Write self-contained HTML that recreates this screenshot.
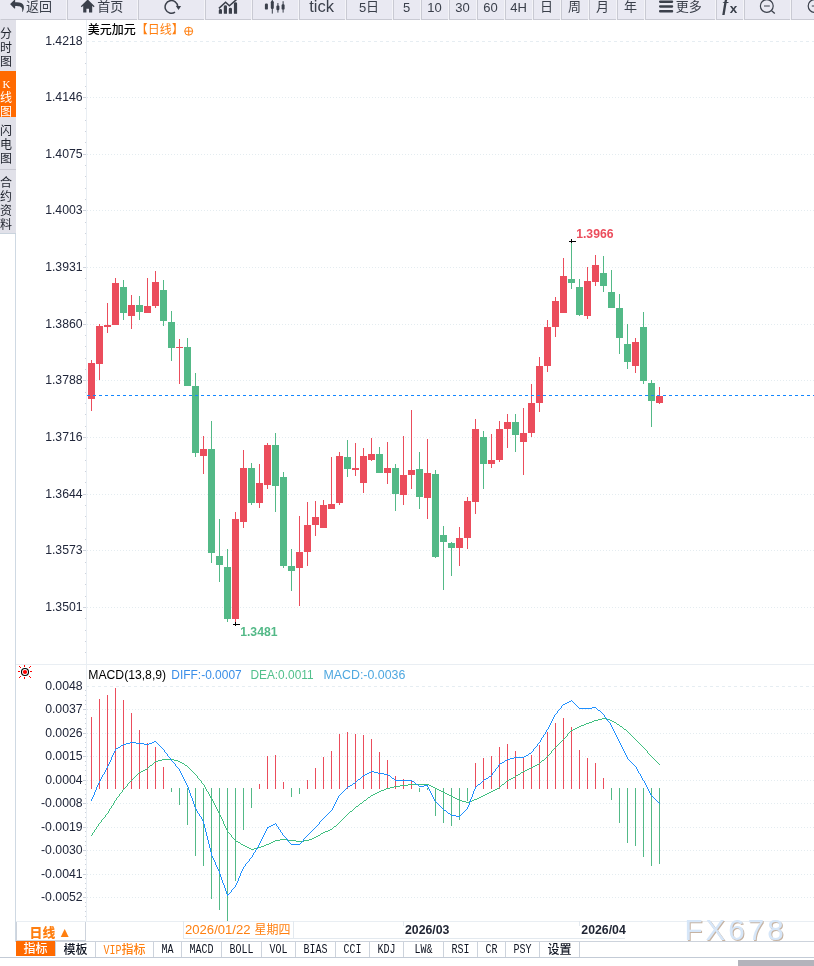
<!DOCTYPE html><html lang="zh-CN"><head><meta charset="utf-8"><title>美元加元 日线</title><style>
*{box-sizing:border-box;margin:0;padding:0}
html,body{width:814px;height:966px;overflow:hidden;background:#fff}
body{position:relative;font-family:"Liberation Sans","Noto Sans CJK SC",sans-serif;color:#333}
#toolbar{position:absolute;left:0;top:0;width:814px;height:20px;overflow:hidden;background:#f4f4f8}
#toolbar .b{position:absolute;top:-7px;height:27px;background:#e9e9f2;border-left:1px solid #c9cad3;border-bottom:1px solid #c9cad3;
 font-size:13px;line-height:27px;color:#3b404b;text-align:center;text-indent:-1px;white-space:nowrap;overflow:hidden}
#toolbar .b .t{position:absolute;top:0;text-indent:0}
#toolbar .b .l{position:relative;top:0.5px}
#toolbar .fx{position:relative;top:-1.5px;left:-0.5px;font-weight:bold}
#toolbar .fx .f{font-family:"Liberation Serif",serif;font-style:italic;font-size:18px;letter-spacing:0}
#toolbar .fx .x{font-size:13.5px;position:relative;top:2px;left:1.5px}
#side{position:absolute;left:0;top:20px;width:16px}
#side div{width:16px;font-family:"Liberation Mono","Noto Sans CJK SC",sans-serif;font-size:12px;line-height:14.3px;color:#1e222c;background:#e1e1e9;text-align:left;overflow:hidden}
#side div.on{background:#ff6a00;color:#fff}
#side .k{padding-left:2.5px;font-family:"Liberation Serif",serif;font-size:11px}
#period{position:absolute;left:16px;top:922px;width:70px;height:19px;border:1px solid #cdd3dc;border-top:none;font-size:12.8px;font-weight:bold;color:#ff7f10;line-height:22.4px;text-align:left;background:#fff;white-space:nowrap}
#period b{position:absolute;left:12.6px;top:0;font-size:12.8px;line-height:21px}
#period span{position:absolute;left:41.1px;top:-0.4px;font-size:13.5px}
#tabs{position:absolute;left:15px;top:941px;height:16px;width:799px;border-top:1px solid #cdd3dc;background:#fff}
#tabs span{position:absolute;top:0;height:15px;border-right:1px solid #cdd3dc;font-family:"Liberation Mono","Noto Serif CJK SC",monospace;font-size:10px;line-height:18.4px;color:#0f1422;text-align:center;white-space:nowrap;overflow:hidden}
#tabs span i{display:inline-block;font-style:normal;transform:scaleY(1.2);transform-origin:50% 60%}
#tabs span.cn{font-family:"Liberation Mono","Noto Sans CJK SC",sans-serif;font-size:12px;line-height:18.2px;font-weight:500}
#tabs span.cn i{font-size:10px}
#tabs span.on{background:#ff6a00;color:#fff;top:-1px;height:15px;line-height:18px}
#tabs span.vip{color:#ff7f10}
#bline{position:absolute;left:0;top:957px;width:814px;height:1px;background:#c3cbd6}
#scroll{position:absolute;left:738px;top:960px;width:76px;height:6px;background:#b3b3bb}
#title{position:absolute;left:87.8px;top:20.4px;font-size:12px;line-height:18px;color:#000;white-space:nowrap;font-family:"Noto Sans CJK SC",sans-serif;font-weight:500}
#title b{font-weight:normal;color:#ff7f10}
</style></head><body>
<svg id="chart" width="814" height="966" viewBox="0 0 814 966" style="position:absolute;left:0;top:0">
<g shape-rendering="crispEdges" stroke="#e4ecf0" stroke-width="1" fill="none">
<path d="M86 41.5H814" stroke="#e6edf2" stroke-dasharray="3 3"/>
<path d="M87 97.5H814" stroke-dasharray="1 2"/>
<path d="M87 154.5H814" stroke-dasharray="1 2"/>
<path d="M87 210.5H814" stroke-dasharray="1 2"/>
<path d="M87 267.5H814" stroke-dasharray="1 2"/>
<path d="M87 324.5H814" stroke-dasharray="1 2"/>
<path d="M87 380.5H814" stroke-dasharray="1 2"/>
<path d="M87 437.5H814" stroke-dasharray="1 2"/>
<path d="M87 494.5H814" stroke-dasharray="1 2"/>
<path d="M87 550.5H814" stroke-dasharray="1 2"/>
<path d="M87 607.5H814" stroke-dasharray="1 2"/>
<path d="M86 686.5H814" stroke="#e6edf2" stroke-dasharray="3 3"/>
<path d="M87 709.5H814" stroke-dasharray="1 2"/>
<path d="M87 733.5H814" stroke-dasharray="1 2"/>
<path d="M87 756.5H814" stroke-dasharray="1 2"/>
<path d="M87 780.5H814" stroke-dasharray="1 2"/>
<path d="M87 803.5H814" stroke-dasharray="1 2"/>
<path d="M87 827.5H814" stroke-dasharray="1 2"/>
<path d="M87 850.5H814" stroke-dasharray="1 2"/>
<path d="M87 874.5H814" stroke-dasharray="1 2"/>
<path d="M87 897.5H814" stroke-dasharray="1 2"/>
</g>
<g shape-rendering="crispEdges" fill="#e9eef3">
<rect x="86" y="20" width="1" height="901"/>
<rect x="15" y="234" width="1" height="723" fill="#cfd9e3"/>
<rect x="16" y="664" width="798" height="1"/>
<rect x="16" y="921" width="798" height="1"/>
</g>
<g shape-rendering="crispEdges" fill="#cdd2dc">
<rect x="85" y="52" width="1" height="1"/>
<rect x="85" y="63" width="1" height="1"/>
<rect x="85" y="74" width="1" height="1"/>
<rect x="85" y="86" width="1" height="1"/>
<rect x="83" y="97" width="3" height="1"/>
<rect x="85" y="108" width="1" height="1"/>
<rect x="85" y="120" width="1" height="1"/>
<rect x="85" y="131" width="1" height="1"/>
<rect x="85" y="142" width="1" height="1"/>
<rect x="83" y="154" width="3" height="1"/>
<rect x="85" y="165" width="1" height="1"/>
<rect x="85" y="176" width="1" height="1"/>
<rect x="85" y="188" width="1" height="1"/>
<rect x="85" y="199" width="1" height="1"/>
<rect x="83" y="210" width="3" height="1"/>
<rect x="85" y="222" width="1" height="1"/>
<rect x="85" y="233" width="1" height="1"/>
<rect x="85" y="244" width="1" height="1"/>
<rect x="85" y="256" width="1" height="1"/>
<rect x="83" y="267" width="3" height="1"/>
<rect x="85" y="278" width="1" height="1"/>
<rect x="85" y="290" width="1" height="1"/>
<rect x="85" y="301" width="1" height="1"/>
<rect x="85" y="312" width="1" height="1"/>
<rect x="83" y="324" width="3" height="1"/>
<rect x="85" y="335" width="1" height="1"/>
<rect x="85" y="346" width="1" height="1"/>
<rect x="85" y="358" width="1" height="1"/>
<rect x="85" y="369" width="1" height="1"/>
<rect x="83" y="380" width="3" height="1"/>
<rect x="85" y="392" width="1" height="1"/>
<rect x="85" y="403" width="1" height="1"/>
<rect x="85" y="414" width="1" height="1"/>
<rect x="85" y="426" width="1" height="1"/>
<rect x="83" y="437" width="3" height="1"/>
<rect x="85" y="448" width="1" height="1"/>
<rect x="85" y="460" width="1" height="1"/>
<rect x="85" y="471" width="1" height="1"/>
<rect x="85" y="482" width="1" height="1"/>
<rect x="83" y="494" width="3" height="1"/>
<rect x="85" y="505" width="1" height="1"/>
<rect x="85" y="516" width="1" height="1"/>
<rect x="85" y="528" width="1" height="1"/>
<rect x="85" y="539" width="1" height="1"/>
<rect x="83" y="550" width="3" height="1"/>
<rect x="85" y="562" width="1" height="1"/>
<rect x="85" y="573" width="1" height="1"/>
<rect x="85" y="584" width="1" height="1"/>
<rect x="85" y="596" width="1" height="1"/>
<rect x="83" y="607" width="3" height="1"/>
<rect x="85" y="618" width="1" height="1"/>
<rect x="85" y="630" width="1" height="1"/>
<rect x="85" y="641" width="1" height="1"/>
<rect x="85" y="652" width="1" height="1"/>
<rect x="85" y="690" width="1" height="1"/>
<rect x="85" y="695" width="1" height="1"/>
<rect x="85" y="700" width="1" height="1"/>
<rect x="85" y="704" width="1" height="1"/>
<rect x="83" y="709" width="3" height="1"/>
<rect x="85" y="714" width="1" height="1"/>
<rect x="85" y="718" width="1" height="1"/>
<rect x="85" y="723" width="1" height="1"/>
<rect x="85" y="728" width="1" height="1"/>
<rect x="83" y="733" width="3" height="1"/>
<rect x="85" y="737" width="1" height="1"/>
<rect x="85" y="742" width="1" height="1"/>
<rect x="85" y="747" width="1" height="1"/>
<rect x="85" y="751" width="1" height="1"/>
<rect x="83" y="756" width="3" height="1"/>
<rect x="85" y="761" width="1" height="1"/>
<rect x="85" y="765" width="1" height="1"/>
<rect x="85" y="770" width="1" height="1"/>
<rect x="85" y="775" width="1" height="1"/>
<rect x="83" y="780" width="3" height="1"/>
<rect x="85" y="784" width="1" height="1"/>
<rect x="85" y="789" width="1" height="1"/>
<rect x="85" y="794" width="1" height="1"/>
<rect x="85" y="798" width="1" height="1"/>
<rect x="83" y="803" width="3" height="1"/>
<rect x="85" y="808" width="1" height="1"/>
<rect x="85" y="812" width="1" height="1"/>
<rect x="85" y="817" width="1" height="1"/>
<rect x="85" y="822" width="1" height="1"/>
<rect x="83" y="827" width="3" height="1"/>
<rect x="85" y="831" width="1" height="1"/>
<rect x="85" y="836" width="1" height="1"/>
<rect x="85" y="841" width="1" height="1"/>
<rect x="85" y="845" width="1" height="1"/>
<rect x="83" y="850" width="3" height="1"/>
<rect x="85" y="855" width="1" height="1"/>
<rect x="85" y="859" width="1" height="1"/>
<rect x="85" y="864" width="1" height="1"/>
<rect x="85" y="869" width="1" height="1"/>
<rect x="83" y="874" width="3" height="1"/>
<rect x="85" y="878" width="1" height="1"/>
<rect x="85" y="883" width="1" height="1"/>
<rect x="85" y="888" width="1" height="1"/>
<rect x="85" y="892" width="1" height="1"/>
<rect x="83" y="897" width="3" height="1"/>
<rect x="85" y="902" width="1" height="1"/>
<rect x="85" y="906" width="1" height="1"/>
<rect x="85" y="911" width="1" height="1"/>
<rect x="85" y="916" width="1" height="1"/>
</g>
<g shape-rendering="crispEdges">
<rect x="91" y="360" width="1" height="51" fill="#eb4d5c"/>
<rect x="88" y="363" width="7" height="36" fill="#eb4d5c"/>
<rect x="99" y="324" width="1" height="56" fill="#eb4d5c"/>
<rect x="96" y="326" width="7" height="38" fill="#eb4d5c"/>
<rect x="107" y="303" width="1" height="30" fill="#eb4d5c"/>
<rect x="104" y="325" width="7" height="2" fill="#eb4d5c"/>
<rect x="115" y="278" width="1" height="47" fill="#eb4d5c"/>
<rect x="112" y="283" width="7" height="42" fill="#eb4d5c"/>
<rect x="123" y="280" width="1" height="40" fill="#53b987"/>
<rect x="120" y="287" width="7" height="26" fill="#53b987"/>
<rect x="131" y="295" width="1" height="34" fill="#eb4d5c"/>
<rect x="128" y="305" width="7" height="11" fill="#eb4d5c"/>
<rect x="139" y="296" width="1" height="24" fill="#53b987"/>
<rect x="136" y="305" width="7" height="7" fill="#53b987"/>
<rect x="147" y="278" width="1" height="35" fill="#eb4d5c"/>
<rect x="144" y="306" width="7" height="7" fill="#eb4d5c"/>
<rect x="155" y="271" width="1" height="37" fill="#eb4d5c"/>
<rect x="152" y="282" width="7" height="24" fill="#eb4d5c"/>
<rect x="163" y="280" width="1" height="46" fill="#53b987"/>
<rect x="160" y="290" width="7" height="31" fill="#53b987"/>
<rect x="171" y="311" width="1" height="50" fill="#53b987"/>
<rect x="168" y="322" width="7" height="26" fill="#53b987"/>
<rect x="179" y="339" width="1" height="45" fill="#eb4d5c"/>
<rect x="176" y="347" width="7" height="1" fill="#eb4d5c"/>
<rect x="187" y="338" width="1" height="48" fill="#53b987"/>
<rect x="184" y="347" width="7" height="39" fill="#53b987"/>
<rect x="195" y="373" width="1" height="84" fill="#53b987"/>
<rect x="192" y="386" width="7" height="67" fill="#53b987"/>
<rect x="203" y="436" width="1" height="38" fill="#eb4d5c"/>
<rect x="200" y="449" width="7" height="7" fill="#eb4d5c"/>
<rect x="211" y="421" width="1" height="142" fill="#53b987"/>
<rect x="208" y="449" width="7" height="104" fill="#53b987"/>
<rect x="219" y="519" width="1" height="63" fill="#53b987"/>
<rect x="216" y="556" width="7" height="9" fill="#53b987"/>
<rect x="227" y="549" width="1" height="73" fill="#53b987"/>
<rect x="224" y="567" width="7" height="52" fill="#53b987"/>
<rect x="235" y="512" width="1" height="111" fill="#eb4d5c"/>
<rect x="232" y="519" width="7" height="100" fill="#eb4d5c"/>
<rect x="243" y="450" width="1" height="78" fill="#eb4d5c"/>
<rect x="240" y="468" width="7" height="54" fill="#eb4d5c"/>
<rect x="251" y="463" width="1" height="42" fill="#53b987"/>
<rect x="248" y="468" width="7" height="35" fill="#53b987"/>
<rect x="259" y="464" width="1" height="44" fill="#eb4d5c"/>
<rect x="256" y="483" width="7" height="20" fill="#eb4d5c"/>
<rect x="267" y="443" width="1" height="46" fill="#eb4d5c"/>
<rect x="264" y="445" width="7" height="40" fill="#eb4d5c"/>
<rect x="275" y="433" width="1" height="79" fill="#53b987"/>
<rect x="272" y="445" width="7" height="41" fill="#53b987"/>
<rect x="283" y="472" width="1" height="96" fill="#53b987"/>
<rect x="280" y="477" width="7" height="89" fill="#53b987"/>
<rect x="291" y="549" width="1" height="42" fill="#53b987"/>
<rect x="288" y="566" width="7" height="5" fill="#53b987"/>
<rect x="299" y="516" width="1" height="90" fill="#eb4d5c"/>
<rect x="296" y="552" width="7" height="16" fill="#eb4d5c"/>
<rect x="307" y="502" width="1" height="64" fill="#eb4d5c"/>
<rect x="304" y="525" width="7" height="27" fill="#eb4d5c"/>
<rect x="315" y="501" width="1" height="35" fill="#eb4d5c"/>
<rect x="312" y="517" width="7" height="8" fill="#eb4d5c"/>
<rect x="323" y="500" width="1" height="28" fill="#eb4d5c"/>
<rect x="320" y="505" width="7" height="23" fill="#eb4d5c"/>
<rect x="331" y="457" width="1" height="52" fill="#eb4d5c"/>
<rect x="328" y="504" width="7" height="5" fill="#eb4d5c"/>
<rect x="339" y="452" width="1" height="53" fill="#eb4d5c"/>
<rect x="336" y="456" width="7" height="47" fill="#eb4d5c"/>
<rect x="347" y="440" width="1" height="37" fill="#53b987"/>
<rect x="344" y="457" width="7" height="12" fill="#53b987"/>
<rect x="355" y="443" width="1" height="33" fill="#eb4d5c"/>
<rect x="352" y="468" width="7" height="2" fill="#eb4d5c"/>
<rect x="363" y="448" width="1" height="45" fill="#eb4d5c"/>
<rect x="360" y="456" width="7" height="27" fill="#eb4d5c"/>
<rect x="371" y="438" width="1" height="23" fill="#eb4d5c"/>
<rect x="368" y="454" width="7" height="6" fill="#eb4d5c"/>
<rect x="379" y="447" width="1" height="26" fill="#53b987"/>
<rect x="376" y="454" width="7" height="19" fill="#53b987"/>
<rect x="387" y="442" width="1" height="42" fill="#eb4d5c"/>
<rect x="384" y="468" width="7" height="5" fill="#eb4d5c"/>
<rect x="395" y="464" width="1" height="47" fill="#53b987"/>
<rect x="392" y="468" width="7" height="26" fill="#53b987"/>
<rect x="403" y="436" width="1" height="69" fill="#eb4d5c"/>
<rect x="400" y="475" width="7" height="20" fill="#eb4d5c"/>
<rect x="411" y="410" width="1" height="79" fill="#eb4d5c"/>
<rect x="408" y="470" width="7" height="5" fill="#eb4d5c"/>
<rect x="419" y="452" width="1" height="57" fill="#53b987"/>
<rect x="416" y="469" width="7" height="28" fill="#53b987"/>
<rect x="427" y="439" width="1" height="80" fill="#eb4d5c"/>
<rect x="424" y="473" width="7" height="25" fill="#eb4d5c"/>
<rect x="435" y="470" width="1" height="88" fill="#53b987"/>
<rect x="432" y="474" width="7" height="83" fill="#53b987"/>
<rect x="443" y="526" width="1" height="64" fill="#53b987"/>
<rect x="440" y="535" width="7" height="7" fill="#53b987"/>
<rect x="451" y="542" width="1" height="34" fill="#53b987"/>
<rect x="448" y="543" width="7" height="5" fill="#53b987"/>
<rect x="459" y="527" width="1" height="39" fill="#eb4d5c"/>
<rect x="456" y="538" width="7" height="10" fill="#eb4d5c"/>
<rect x="467" y="497" width="1" height="52" fill="#eb4d5c"/>
<rect x="464" y="501" width="7" height="37" fill="#eb4d5c"/>
<rect x="475" y="419" width="1" height="95" fill="#eb4d5c"/>
<rect x="472" y="429" width="7" height="73" fill="#eb4d5c"/>
<rect x="483" y="431" width="1" height="58" fill="#53b987"/>
<rect x="480" y="437" width="7" height="27" fill="#53b987"/>
<rect x="491" y="434" width="1" height="34" fill="#eb4d5c"/>
<rect x="488" y="460" width="7" height="4" fill="#eb4d5c"/>
<rect x="499" y="421" width="1" height="41" fill="#eb4d5c"/>
<rect x="496" y="429" width="7" height="31" fill="#eb4d5c"/>
<rect x="507" y="414" width="1" height="34" fill="#eb4d5c"/>
<rect x="504" y="422" width="7" height="7" fill="#eb4d5c"/>
<rect x="515" y="414" width="1" height="38" fill="#53b987"/>
<rect x="512" y="422" width="7" height="13" fill="#53b987"/>
<rect x="523" y="408" width="1" height="67" fill="#eb4d5c"/>
<rect x="520" y="433" width="7" height="9" fill="#eb4d5c"/>
<rect x="531" y="384" width="1" height="53" fill="#eb4d5c"/>
<rect x="528" y="403" width="7" height="30" fill="#eb4d5c"/>
<rect x="539" y="357" width="1" height="55" fill="#eb4d5c"/>
<rect x="536" y="366" width="7" height="37" fill="#eb4d5c"/>
<rect x="547" y="320" width="1" height="52" fill="#eb4d5c"/>
<rect x="544" y="327" width="7" height="39" fill="#eb4d5c"/>
<rect x="555" y="297" width="1" height="40" fill="#eb4d5c"/>
<rect x="552" y="301" width="7" height="26" fill="#eb4d5c"/>
<rect x="563" y="258" width="1" height="55" fill="#eb4d5c"/>
<rect x="560" y="276" width="7" height="37" fill="#eb4d5c"/>
<rect x="571" y="241" width="1" height="48" fill="#53b987"/>
<rect x="568" y="279" width="7" height="4" fill="#53b987"/>
<rect x="579" y="279" width="1" height="37" fill="#53b987"/>
<rect x="576" y="287" width="7" height="28" fill="#53b987"/>
<rect x="587" y="267" width="1" height="52" fill="#eb4d5c"/>
<rect x="584" y="281" width="7" height="35" fill="#eb4d5c"/>
<rect x="595" y="255" width="1" height="31" fill="#eb4d5c"/>
<rect x="592" y="265" width="7" height="17" fill="#eb4d5c"/>
<rect x="603" y="256" width="1" height="36" fill="#53b987"/>
<rect x="600" y="273" width="7" height="13" fill="#53b987"/>
<rect x="611" y="270" width="1" height="38" fill="#53b987"/>
<rect x="608" y="292" width="7" height="16" fill="#53b987"/>
<rect x="619" y="294" width="1" height="60" fill="#53b987"/>
<rect x="616" y="308" width="7" height="30" fill="#53b987"/>
<rect x="627" y="324" width="1" height="45" fill="#53b987"/>
<rect x="624" y="344" width="7" height="18" fill="#53b987"/>
<rect x="635" y="338" width="1" height="35" fill="#eb4d5c"/>
<rect x="632" y="342" width="7" height="24" fill="#eb4d5c"/>
<rect x="643" y="312" width="1" height="72" fill="#53b987"/>
<rect x="640" y="327" width="7" height="54" fill="#53b987"/>
<rect x="651" y="380" width="1" height="47" fill="#53b987"/>
<rect x="648" y="383" width="7" height="18" fill="#53b987"/>
<rect x="659" y="387" width="1" height="17" fill="#eb4d5c"/>
<rect x="656" y="396" width="7" height="7" fill="#eb4d5c"/>
</g>
<path d="M87 395.5H814" stroke="#1487ff" stroke-width="1" stroke-dasharray="3 3" fill="none" shape-rendering="crispEdges"/>
<g shape-rendering="crispEdges" fill="#000"><rect x="569" y="241" width="7" height="1"/><rect x="571" y="239" width="1" height="4"/><rect x="233" y="624" width="7" height="1"/><rect x="235" y="622" width="1" height="4"/></g>
<text x="576.2" y="238" font-family="Liberation Sans, sans-serif" font-weight="bold" font-size="12.2" fill="#eb4d5c">1.3966</text>
<text x="240.2" y="636" font-family="Liberation Sans, sans-serif" font-weight="bold" font-size="12.2" fill="#53b987">1.3481</text>
<g font-family="Liberation Sans, sans-serif" font-size="12.25" fill="#20263a" text-anchor="end">
<text x="82.6" y="44.8">1.4218</text>
<text x="82.6" y="100.8">1.4146</text>
<text x="82.6" y="157.8">1.4075</text>
<text x="82.6" y="213.8">1.4003</text>
<text x="82.6" y="270.8">1.3931</text>
<text x="82.6" y="327.8">1.3860</text>
<text x="82.6" y="383.8">1.3788</text>
<text x="82.6" y="440.8">1.3716</text>
<text x="82.6" y="497.8">1.3644</text>
<text x="82.6" y="553.8">1.3573</text>
<text x="82.6" y="610.8">1.3501</text>
<text x="82.6" y="690.3">0.0048</text>
<text x="82.6" y="713.3">0.0037</text>
<text x="82.6" y="737.3">0.0026</text>
<text x="82.6" y="760.3">0.0015</text>
<text x="82.6" y="784.3">0.0004</text>
<text x="82.6" y="807.3">-0.0008</text>
<text x="82.6" y="831.3">-0.0019</text>
<text x="82.6" y="854.3">-0.0030</text>
<text x="82.6" y="878.3">-0.0041</text>
<text x="82.6" y="901.3">-0.0052</text>
</g>
<g shape-rendering="crispEdges">
<rect x="91" y="717" width="1" height="72" fill="#eb4d5c"/>
<rect x="99" y="699" width="1" height="90" fill="#eb4d5c"/>
<rect x="107" y="695" width="1" height="94" fill="#eb4d5c"/>
<rect x="115" y="688" width="1" height="101" fill="#eb4d5c"/>
<rect x="123" y="700" width="1" height="89" fill="#eb4d5c"/>
<rect x="131" y="713" width="1" height="76" fill="#eb4d5c"/>
<rect x="139" y="730" width="1" height="59" fill="#eb4d5c"/>
<rect x="147" y="743" width="1" height="46" fill="#eb4d5c"/>
<rect x="155" y="747" width="1" height="42" fill="#eb4d5c"/>
<rect x="163" y="767" width="1" height="22" fill="#eb4d5c"/>
<rect x="171" y="788" width="1" height="4" fill="#53b987"/>
<rect x="179" y="788" width="1" height="17" fill="#53b987"/>
<rect x="187" y="788" width="1" height="37" fill="#53b987"/>
<rect x="195" y="788" width="1" height="68" fill="#53b987"/>
<rect x="203" y="788" width="1" height="78" fill="#53b987"/>
<rect x="211" y="788" width="1" height="111" fill="#53b987"/>
<rect x="219" y="788" width="1" height="122" fill="#53b987"/>
<rect x="227" y="788" width="1" height="133" fill="#53b987"/>
<rect x="235" y="788" width="1" height="93" fill="#53b987"/>
<rect x="243" y="788" width="1" height="42" fill="#53b987"/>
<rect x="251" y="788" width="1" height="20" fill="#53b987"/>
<rect x="259" y="784" width="1" height="5" fill="#eb4d5c"/>
<rect x="267" y="756" width="1" height="33" fill="#eb4d5c"/>
<rect x="275" y="755" width="1" height="34" fill="#eb4d5c"/>
<rect x="283" y="782" width="1" height="7" fill="#eb4d5c"/>
<rect x="291" y="788" width="1" height="9" fill="#53b987"/>
<rect x="299" y="788" width="1" height="6" fill="#53b987"/>
<rect x="307" y="780" width="1" height="9" fill="#eb4d5c"/>
<rect x="315" y="768" width="1" height="21" fill="#eb4d5c"/>
<rect x="323" y="757" width="1" height="32" fill="#eb4d5c"/>
<rect x="331" y="751" width="1" height="38" fill="#eb4d5c"/>
<rect x="339" y="734" width="1" height="55" fill="#eb4d5c"/>
<rect x="347" y="732" width="1" height="57" fill="#eb4d5c"/>
<rect x="355" y="734" width="1" height="55" fill="#eb4d5c"/>
<rect x="363" y="735" width="1" height="54" fill="#eb4d5c"/>
<rect x="371" y="739" width="1" height="50" fill="#eb4d5c"/>
<rect x="379" y="752" width="1" height="37" fill="#eb4d5c"/>
<rect x="387" y="760" width="1" height="29" fill="#eb4d5c"/>
<rect x="395" y="776" width="1" height="13" fill="#eb4d5c"/>
<rect x="403" y="779" width="1" height="10" fill="#eb4d5c"/>
<rect x="411" y="780" width="1" height="9" fill="#eb4d5c"/>
<rect x="419" y="788" width="1" height="4" fill="#53b987"/>
<rect x="427" y="788" width="1" height="1.5" fill="#53b987"/>
<rect x="435" y="788" width="1" height="28" fill="#53b987"/>
<rect x="443" y="788" width="1" height="35" fill="#53b987"/>
<rect x="451" y="788" width="1" height="38" fill="#53b987"/>
<rect x="459" y="788" width="1" height="32" fill="#53b987"/>
<rect x="467" y="788" width="1" height="13" fill="#53b987"/>
<rect x="475" y="763" width="1" height="26" fill="#eb4d5c"/>
<rect x="483" y="758" width="1" height="31" fill="#eb4d5c"/>
<rect x="491" y="756" width="1" height="33" fill="#eb4d5c"/>
<rect x="499" y="747" width="1" height="42" fill="#eb4d5c"/>
<rect x="507" y="744" width="1" height="45" fill="#eb4d5c"/>
<rect x="515" y="751" width="1" height="38" fill="#eb4d5c"/>
<rect x="523" y="757.5" width="1" height="31.5" fill="#eb4d5c"/>
<rect x="531" y="755" width="1" height="34" fill="#eb4d5c"/>
<rect x="539" y="745" width="1" height="44" fill="#eb4d5c"/>
<rect x="547" y="732" width="1" height="57" fill="#eb4d5c"/>
<rect x="555" y="723" width="1" height="66" fill="#eb4d5c"/>
<rect x="563" y="718" width="1" height="71" fill="#eb4d5c"/>
<rect x="571" y="727" width="1" height="62" fill="#eb4d5c"/>
<rect x="579" y="750" width="1" height="39" fill="#eb4d5c"/>
<rect x="587" y="758" width="1" height="31" fill="#eb4d5c"/>
<rect x="595" y="763" width="1" height="26" fill="#eb4d5c"/>
<rect x="603" y="778" width="1" height="11" fill="#eb4d5c"/>
<rect x="611" y="788" width="1" height="12" fill="#53b987"/>
<rect x="619" y="788" width="1" height="35" fill="#53b987"/>
<rect x="627" y="788" width="1" height="55" fill="#53b987"/>
<rect x="635" y="788" width="1" height="58" fill="#53b987"/>
<rect x="643" y="788" width="1" height="69" fill="#53b987"/>
<rect x="651" y="788" width="1" height="78" fill="#53b987"/>
<rect x="659" y="788" width="1" height="76" fill="#53b987"/>
</g>
<path d="M91 835h1v1h-1zM92 833h1v2h-1zM93 832h1v1h-1zM94 830h1v2h-1zM95 829h1v1h-1zM96 827h1v2h-1zM97 826h1v1h-1zM98 824h1v2h-1zM99 823h1v1h-1zM100 822h1v1h-1zM101 820h1v2h-1zM102 819h1v1h-1zM103 818h1v1h-1zM104 817h1v1h-1zM105 815h1v2h-1zM106 814h1v1h-1zM107 813h1v1h-1zM108 811h1v2h-1zM109 809h1v2h-1zM110 808h1v1h-1zM111 806h1v2h-1zM112 805h1v1h-1zM113 803h1v2h-1zM114 801h1v2h-1zM115 800h1v1h-1zM116 798h1v2h-1zM117 797h1v1h-1zM118 796h1v1h-1zM119 794h1v2h-1zM120 793h1v1h-1zM121 792h1v1h-1zM122 790h1v2h-1zM123 789h1v1h-1zM124 788h1v1h-1zM125 787h1v1h-1zM126 786h1v1h-1zM127 784h1v2h-1zM128 783h1v1h-1zM129 782h1v1h-1zM130 781h1v1h-1zM131 780h1v1h-1zM132 779h1v1h-1zM133 778h1v1h-1zM134 777h1v1h-1zM135 776h1v1h-1zM136 775h1v1h-1zM137 774h1v1h-1zM138 773h1v1h-1zM139 772h2v1h-2zM141 771h2v1h-2zM143 770h2v1h-2zM145 769h2v1h-2zM147 768h1v1h-1zM148 767h1v1h-1zM149 766h1v1h-1zM150 765h2v1h-2zM152 764h1v1h-1zM153 763h1v1h-1zM154 762h1v1h-1zM155 761h3v1h-3zM158 760h4v1h-4zM162 759h12v1h-12zM174 760h4v1h-4zM178 761h2v1h-2zM180 762h2v1h-2zM182 763h2v1h-2zM184 764h1v1h-1zM185 765h2v1h-2zM187 766h1v1h-1zM188 767h1v1h-1zM189 768h1v1h-1zM190 769h1v1h-1zM191 770h1v1h-1zM192 771h1v1h-1zM193 772h1v1h-1zM194 773h1v1h-1zM195 774h1v1h-1zM196 775h1v1h-1zM197 776h1v2h-1zM198 778h1v1h-1zM199 779h1v1h-1zM200 780h1v1h-1zM201 781h1v2h-1zM202 783h1v1h-1zM203 784h1v1h-1zM204 785h1v2h-1zM205 787h1v2h-1zM206 789h1v2h-1zM207 791h1v1h-1zM208 792h1v2h-1zM209 794h1v2h-1zM210 796h1v2h-1zM211 798h1v1h-1zM212 799h1v2h-1zM213 801h1v2h-1zM214 803h1v2h-1zM215 805h1v2h-1zM216 807h1v2h-1zM217 809h1v2h-1zM218 811h1v2h-1zM219 813h1v2h-1zM220 815h1v2h-1zM221 817h1v2h-1zM222 819h1v2h-1zM223 821h1v3h-1zM224 824h1v2h-1zM225 826h1v2h-1zM226 828h1v2h-1zM227 830h1v2h-1zM228 832h1v1h-1zM229 833h1v1h-1zM230 834h1v1h-1zM231 835h1v2h-1zM232 837h1v1h-1zM233 838h1v1h-1zM234 839h1v1h-1zM235 840h1v1h-1zM236 841h2v1h-2zM238 842h2v1h-2zM240 843h1v1h-1zM241 844h2v1h-2zM243 845h2v1h-2zM245 846h2v1h-2zM247 847h2v1h-2zM249 848h2v1h-2zM251 849h3v1h-3zM254 848h4v1h-4zM258 847h3v1h-3zM261 846h3v1h-3zM264 845h2v1h-2zM266 844h3v1h-3zM269 843h2v1h-2zM271 842h2v1h-2zM273 841h2v1h-2zM275 840h5v1h-5zM280 839h8v1h-8zM288 840h8v1h-8zM296 841h8v1h-8zM304 840h5v1h-5zM309 839h3v1h-3zM312 838h2v1h-2zM314 837h2v1h-2zM316 836h2v1h-2zM318 835h2v1h-2zM320 834h1v1h-1zM321 833h2v1h-2zM323 832h2v1h-2zM325 831h3v1h-3zM328 830h2v1h-2zM330 829h2v1h-2zM332 828h1v1h-1zM333 827h1v1h-1zM334 826h2v1h-2zM336 825h1v1h-1zM337 824h1v1h-1zM338 823h1v1h-1zM339 822h1v1h-1zM340 821h1v1h-1zM341 820h1v1h-1zM342 819h1v1h-1zM343 818h1v1h-1zM344 817h1v1h-1zM345 816h1v1h-1zM346 815h1v1h-1zM347 814h1v1h-1zM348 813h1v1h-1zM349 812h1v1h-1zM350 811h2v1h-2zM352 810h1v1h-1zM353 809h1v1h-1zM354 808h1v1h-1zM355 807h1v1h-1zM356 806h2v1h-2zM358 805h1v1h-1zM359 804h1v1h-1zM360 803h2v1h-2zM362 802h1v1h-1zM363 801h1v1h-1zM364 800h2v1h-2zM366 799h1v1h-1zM367 798h1v1h-1zM368 797h2v1h-2zM370 796h1v1h-1zM371 795h2v1h-2zM373 794h2v1h-2zM375 793h2v1h-2zM377 792h2v1h-2zM379 791h2v1h-2zM381 790h3v1h-3zM384 789h2v1h-2zM386 788h4v1h-4zM390 787h4v1h-4zM394 786h6v1h-6zM400 785h8v1h-8zM408 784h21v1h-21zM429 785h2v1h-2zM431 786h2v1h-2zM433 787h2v1h-2zM435 788h2v1h-2zM437 789h2v1h-2zM439 790h2v1h-2zM441 791h2v1h-2zM443 792h2v1h-2zM445 793h2v1h-2zM447 794h2v1h-2zM449 795h2v1h-2zM451 796h2v1h-2zM453 797h2v1h-2zM455 798h2v1h-2zM457 799h2v1h-2zM459 800h3v1h-3zM462 801h4v1h-4zM466 802h3v1h-3zM469 801h3v1h-3zM472 800h2v1h-2zM474 799h3v1h-3zM477 798h2v1h-2zM479 797h2v1h-2zM481 796h2v1h-2zM483 795h2v1h-2zM485 794h2v1h-2zM487 793h2v1h-2zM489 792h2v1h-2zM491 791h2v1h-2zM493 790h2v1h-2zM495 789h2v1h-2zM497 788h2v1h-2zM499 787h1v1h-1zM500 786h1v1h-1zM501 785h1v1h-1zM502 784h2v1h-2zM504 783h1v1h-1zM505 782h1v1h-1zM506 781h1v1h-1zM507 780h2v1h-2zM509 779h2v1h-2zM511 778h2v1h-2zM513 777h2v1h-2zM515 776h1v1h-1zM516 775h2v1h-2zM518 774h2v1h-2zM520 773h1v1h-1zM521 772h2v1h-2zM523 771h2v1h-2zM525 770h2v1h-2zM527 769h2v1h-2zM529 768h2v1h-2zM531 767h2v1h-2zM533 766h2v1h-2zM535 765h2v1h-2zM537 764h2v1h-2zM539 763h1v1h-1zM540 762h1v1h-1zM541 761h1v1h-1zM542 760h2v1h-2zM544 759h1v1h-1zM545 758h1v1h-1zM546 757h1v1h-1zM547 756h1v1h-1zM548 755h1v1h-1zM549 754h1v1h-1zM550 753h1v1h-1zM551 751h1v2h-1zM552 750h1v1h-1zM553 749h1v1h-1zM554 748h1v1h-1zM555 747h1v1h-1zM556 746h1v1h-1zM557 745h1v1h-1zM558 744h1v1h-1zM559 743h1v1h-1zM560 742h1v1h-1zM561 741h1v1h-1zM562 740h1v1h-1zM563 739h1v1h-1zM564 738h1v1h-1zM565 737h1v1h-1zM566 736h1v1h-1zM567 734h1v2h-1zM568 733h1v1h-1zM569 732h1v1h-1zM570 731h1v1h-1zM571 730h2v1h-2zM573 729h2v1h-2zM575 728h2v1h-2zM577 727h2v1h-2zM579 726h2v1h-2zM581 725h3v1h-3zM584 724h2v1h-2zM586 723h3v1h-3zM589 722h3v1h-3zM592 721h2v1h-2zM594 720h4v1h-4zM598 719h4v1h-4zM602 718h4v1h-4zM606 719h4v1h-4zM610 720h2v1h-2zM612 721h2v1h-2zM614 722h2v1h-2zM616 723h1v1h-1zM617 724h2v1h-2zM619 725h1v1h-1zM620 726h2v1h-2zM622 727h1v1h-1zM623 728h1v1h-1zM624 729h2v1h-2zM626 730h1v1h-1zM627 731h1v1h-1zM628 732h1v1h-1zM629 733h1v1h-1zM630 734h1v1h-1zM631 735h1v1h-1zM632 736h1v1h-1zM633 737h1v1h-1zM634 738h1v1h-1zM635 739h1v1h-1zM636 740h1v1h-1zM637 741h1v1h-1zM638 742h1v1h-1zM639 743h1v1h-1zM640 744h1v1h-1zM641 745h1v1h-1zM642 746h1v1h-1zM643 747h1v1h-1zM644 748h1v1h-1zM645 749h1v1h-1zM646 750h1v1h-1zM647 751h1v2h-1zM648 753h1v1h-1zM649 754h1v1h-1zM650 755h1v1h-1zM651 756h1v1h-1zM652 757h1v1h-1zM653 758h1v1h-1zM654 759h1v1h-1zM655 760h1v1h-1zM656 761h1v1h-1zM657 762h1v1h-1zM658 763h1v1h-1zM659 764h1v1h-1z" fill="#3fbf7f" shape-rendering="crispEdges"/>
<path d="M91 799h1v2h-1zM92 797h1v2h-1zM93 795h1v2h-1zM94 792h1v3h-1zM95 790h1v2h-1zM96 787h1v3h-1zM97 785h1v2h-1zM98 783h1v2h-1zM99 781h1v2h-1zM100 779h1v2h-1zM101 777h1v2h-1zM102 775h1v2h-1zM103 774h1v1h-1zM104 772h1v2h-1zM105 770h1v2h-1zM106 768h1v2h-1zM107 766h1v2h-1zM108 764h1v2h-1zM109 762h1v2h-1zM110 760h1v2h-1zM111 757h1v3h-1zM112 755h1v2h-1zM113 753h1v2h-1zM114 751h1v2h-1zM115 749h1v2h-1zM116 748h2v1h-2zM118 747h2v1h-2zM120 746h1v1h-1zM121 745h2v1h-2zM123 744h3v1h-3zM126 743h4v1h-4zM130 742h6v1h-6zM136 743h8v1h-8zM144 744h5v1h-5zM149 743h3v1h-3zM152 742h2v1h-2zM154 741h2v1h-2zM156 742h1v1h-1zM157 743h1v1h-1zM158 744h1v1h-1zM159 745h1v1h-1zM160 746h1v1h-1zM161 747h1v1h-1zM162 748h1v1h-1zM163 749h1v1h-1zM164 750h1v2h-1zM165 752h1v1h-1zM166 753h1v1h-1zM167 754h1v2h-1zM168 756h1v1h-1zM169 757h1v1h-1zM170 758h1v2h-1zM171 760h1v1h-1zM172 761h1v1h-1zM173 762h1v1h-1zM174 763h1v1h-1zM175 764h1v2h-1zM176 766h1v1h-1zM177 767h1v1h-1zM178 768h1v1h-1zM179 769h1v2h-1zM180 771h1v2h-1zM181 773h1v2h-1zM182 775h1v2h-1zM183 777h1v2h-1zM184 779h1v2h-1zM185 781h1v2h-1zM186 783h1v2h-1zM187 785h1v2h-1zM188 787h1v3h-1zM189 790h1v3h-1zM190 793h1v3h-1zM191 796h1v2h-1zM192 798h1v3h-1zM193 801h1v3h-1zM194 804h1v3h-1zM195 807h1v2h-1zM196 809h1v2h-1zM197 811h1v2h-1zM198 813h1v1h-1zM199 814h1v2h-1zM200 816h1v1h-1zM201 817h1v2h-1zM202 819h1v2h-1zM203 821h1v3h-1zM204 824h1v4h-1zM205 828h1v4h-1zM206 832h1v4h-1zM207 836h1v4h-1zM208 840h1v4h-1zM209 844h1v4h-1zM210 848h1v4h-1zM211 852h1v4h-1zM212 856h1v2h-1zM213 858h1v2h-1zM214 860h1v2h-1zM215 862h1v3h-1zM216 865h1v2h-1zM217 867h1v2h-1zM218 869h1v2h-1zM219 871h1v3h-1zM220 874h1v3h-1zM221 877h1v3h-1zM222 880h1v3h-1zM223 883h1v2h-1zM224 885h1v3h-1zM225 888h1v3h-1zM226 891h1v3h-1zM227 894h1v2h-1zM228 894h1v1h-1zM229 893h1v1h-1zM230 892h1v1h-1zM231 890h1v2h-1zM232 889h1v1h-1zM233 888h1v1h-1zM234 887h1v1h-1zM235 885h1v2h-1zM236 883h1v2h-1zM237 881h1v2h-1zM238 878h1v3h-1zM239 876h1v2h-1zM240 873h1v3h-1zM241 871h1v2h-1zM242 869h1v2h-1zM243 867h1v2h-1zM244 866h1v1h-1zM245 864h1v2h-1zM246 863h1v1h-1zM247 862h1v1h-1zM248 861h1v1h-1zM249 859h1v2h-1zM250 858h1v1h-1zM251 857h1v1h-1zM252 855h1v2h-1zM253 853h1v2h-1zM254 852h1v1h-1zM255 850h1v2h-1zM256 849h1v1h-1zM257 847h1v2h-1zM258 845h1v2h-1zM259 843h1v2h-1zM260 841h1v2h-1zM261 839h1v2h-1zM262 837h1v2h-1zM263 835h1v2h-1zM264 833h1v2h-1zM265 831h1v2h-1zM266 829h1v2h-1zM267 827h1v2h-1zM268 827h1v1h-1zM269 826h2v1h-2zM271 825h2v1h-2zM273 824h2v1h-2zM275 823h1v1h-1zM276 824h1v2h-1zM277 826h1v1h-1zM278 827h1v2h-1zM279 829h1v1h-1zM280 830h1v2h-1zM281 832h1v1h-1zM282 833h1v2h-1zM283 835h1v1h-1zM284 836h1v1h-1zM285 837h1v1h-1zM286 838h1v1h-1zM287 839h1v2h-1zM288 841h1v1h-1zM289 842h1v1h-1zM290 843h1v1h-1zM291 844h9v1h-9zM300 843h1v1h-1zM301 842h1v1h-1zM302 841h1v1h-1zM303 839h1v2h-1zM304 838h1v1h-1zM305 837h1v1h-1zM306 836h1v1h-1zM307 835h1v1h-1zM308 834h1v1h-1zM309 833h1v1h-1zM310 832h1v1h-1zM311 831h1v1h-1zM312 830h1v1h-1zM313 829h1v1h-1zM314 828h1v1h-1zM315 827h1v1h-1zM316 826h1v1h-1zM317 825h1v1h-1zM318 824h1v1h-1zM319 822h1v2h-1zM320 821h1v1h-1zM321 820h1v1h-1zM322 819h1v1h-1zM323 818h1v1h-1zM324 817h1v1h-1zM325 816h1v1h-1zM326 815h1v1h-1zM327 814h1v1h-1zM328 813h1v1h-1zM329 812h1v1h-1zM330 811h1v1h-1zM331 810h1v1h-1zM332 808h1v2h-1zM333 806h1v2h-1zM334 804h1v2h-1zM335 802h1v2h-1zM336 800h1v2h-1zM337 798h1v2h-1zM338 796h1v2h-1zM339 795h1v1h-1zM340 794h1v1h-1zM341 793h1v1h-1zM342 792h1v1h-1zM343 791h1v1h-1zM344 790h1v1h-1zM345 789h1v1h-1zM346 788h1v1h-1zM347 787h1v1h-1zM348 786h2v1h-2zM350 785h2v1h-2zM352 784h1v1h-1zM353 783h2v1h-2zM355 782h1v1h-1zM356 781h1v1h-1zM357 780h1v1h-1zM358 779h2v1h-2zM360 778h1v1h-1zM361 777h1v1h-1zM362 776h1v1h-1zM363 775h2v1h-2zM365 774h2v1h-2zM367 773h2v1h-2zM369 772h2v1h-2zM371 771h3v1h-3zM374 772h4v1h-4zM378 773h6v1h-6zM384 774h4v1h-4zM388 775h2v1h-2zM390 776h1v1h-1zM391 777h1v1h-1zM392 778h2v1h-2zM394 779h1v1h-1zM395 780h17v1h-17zM412 781h2v1h-2zM414 782h1v1h-1zM415 783h1v1h-1zM416 784h2v1h-2zM418 785h1v1h-1zM419 786h5v1h-5zM424 785h4v1h-4zM427 786h1v1h-1zM428 787h1v2h-1zM429 789h1v2h-1zM430 791h1v2h-1zM431 793h1v2h-1zM432 795h1v2h-1zM433 797h1v2h-1zM434 799h1v2h-1zM435 801h1v1h-1zM436 802h1v1h-1zM437 803h1v1h-1zM438 804h1v1h-1zM439 805h1v1h-1zM440 806h1v1h-1zM441 807h1v1h-1zM442 808h1v1h-1zM443 809h1v1h-1zM444 810h2v1h-2zM446 811h1v1h-1zM447 812h1v1h-1zM448 813h2v1h-2zM450 814h1v1h-1zM451 815h5v1h-5zM456 816h4v1h-4zM460 815h1v1h-1zM461 814h1v1h-1zM462 813h1v1h-1zM463 812h1v1h-1zM464 811h1v1h-1zM465 810h1v1h-1zM466 809h1v1h-1zM467 807h1v2h-1zM468 805h1v2h-1zM469 802h1v3h-1zM470 799h1v3h-1zM471 797h1v2h-1zM472 794h1v3h-1zM473 791h1v3h-1zM474 789h1v2h-1zM475 787h1v2h-1zM476 786h1v1h-1zM477 785h1v1h-1zM478 784h2v1h-2zM480 783h1v1h-1zM481 782h1v1h-1zM482 781h1v1h-1zM483 780h1v1h-1zM484 779h2v1h-2zM486 778h2v1h-2zM488 777h1v1h-1zM489 776h2v1h-2zM491 775h1v1h-1zM492 773h1v2h-1zM493 772h1v1h-1zM494 771h1v1h-1zM495 769h1v2h-1zM496 768h1v1h-1zM497 767h1v1h-1zM498 765h1v2h-1zM499 764h1v1h-1zM500 763h2v1h-2zM502 762h2v1h-2zM504 761h1v1h-1zM505 760h2v1h-2zM507 759h3v1h-3zM510 758h4v1h-4zM514 757h10v1h-10zM524 756h2v1h-2zM526 755h2v1h-2zM528 754h1v1h-1zM529 753h2v1h-2zM531 752h1v1h-1zM532 751h1v1h-1zM533 749h1v2h-1zM534 748h1v1h-1zM535 747h1v1h-1zM536 746h1v1h-1zM537 744h1v2h-1zM538 743h1v1h-1zM539 742h1v1h-1zM540 740h1v2h-1zM541 738h1v2h-1zM542 737h1v1h-1zM543 735h1v2h-1zM544 734h1v1h-1zM545 732h1v2h-1zM546 730h1v2h-1zM547 729h1v1h-1zM548 727h1v2h-1zM549 725h1v2h-1zM550 723h1v2h-1zM551 721h1v2h-1zM552 719h1v2h-1zM553 717h1v2h-1zM554 715h1v2h-1zM555 714h1v1h-1zM556 713h1v1h-1zM557 711h1v2h-1zM558 710h1v1h-1zM559 709h1v1h-1zM560 708h1v1h-1zM561 706h1v2h-1zM562 705h1v1h-1zM563 704h2v1h-2zM565 703h2v1h-2zM567 702h2v1h-2zM569 701h2v1h-2zM571 700h1v1h-1zM572 701h1v1h-1zM573 702h1v1h-1zM574 703h1v1h-1zM575 704h1v1h-1zM576 705h1v1h-1zM577 706h1v1h-1zM578 707h1v1h-1zM579 708h13v1h-13zM592 707h4v1h-4zM596 708h1v1h-1zM597 709h1v1h-1zM598 710h2v1h-2zM600 711h1v1h-1zM601 712h1v1h-1zM602 713h1v1h-1zM603 714h1v1h-1zM604 715h1v2h-1zM605 717h1v1h-1zM606 718h1v1h-1zM607 719h1v2h-1zM608 721h1v1h-1zM609 722h1v1h-1zM610 723h1v2h-1zM611 725h1v2h-1zM612 727h1v2h-1zM613 729h1v2h-1zM614 731h1v2h-1zM615 733h1v2h-1zM616 735h1v2h-1zM617 737h1v2h-1zM618 739h1v2h-1zM619 741h1v2h-1zM620 743h1v2h-1zM621 745h1v2h-1zM622 747h1v2h-1zM623 749h1v2h-1zM624 751h1v2h-1zM625 753h1v2h-1zM626 755h1v2h-1zM627 757h1v2h-1zM628 759h1v1h-1zM629 760h1v1h-1zM630 761h1v1h-1zM631 762h1v1h-1zM632 763h1v1h-1zM633 764h1v1h-1zM634 765h1v1h-1zM635 766h1v1h-1zM636 767h1v2h-1zM637 769h1v2h-1zM638 771h1v2h-1zM639 773h1v1h-1zM640 774h1v2h-1zM641 776h1v2h-1zM642 778h1v2h-1zM643 780h1v1h-1zM644 781h1v2h-1zM645 783h1v2h-1zM646 785h1v2h-1zM647 787h1v2h-1zM648 789h1v2h-1zM649 791h1v2h-1zM650 793h1v2h-1zM651 795h1v1h-1zM652 796h1v1h-1zM653 797h1v1h-1zM654 798h1v1h-1zM655 799h1v1h-1zM656 800h1v1h-1zM657 801h1v1h-1zM658 802h1v1h-1zM659 803h1v1h-1z" fill="#1e8fff" shape-rendering="crispEdges"/>
<g font-family="Liberation Sans, sans-serif" font-size="12.3"><text x="88.3" y="679" fill="#000" textLength="77.8" lengthAdjust="spacingAndGlyphs">MACD(13,8,9)</text><text x="171.3" y="679" fill="#3a8ee8" textLength="70.4" lengthAdjust="spacingAndGlyphs">DIFF:-0.0007</text><text x="250.4" y="679" fill="#52c08c" textLength="63.2" lengthAdjust="spacingAndGlyphs">DEA:0.0011</text><text x="323.4" y="679" fill="#4fa8e0" textLength="82" lengthAdjust="spacingAndGlyphs">MACD:-0.0036</text></g>
<g><circle cx="25" cy="672" r="3.5" fill="#fff" stroke="#000" stroke-width="1.1"/><circle cx="25" cy="672" r="2.1" fill="#ff0000"/><g fill="#ff0000" shape-rendering="crispEdges"><rect x="18" y="671" width="2" height="1"/><rect x="30" y="671" width="2" height="1"/><rect x="24" y="665" width="1" height="2"/><rect x="24" y="677" width="1" height="2"/><rect x="19" y="666" width="1" height="1"/><rect x="20" y="667" width="1" height="1"/><rect x="30" y="666" width="1" height="1"/><rect x="29" y="667" width="1" height="1"/><rect x="19" y="677" width="1" height="1"/><rect x="20" y="676" width="1" height="1"/><rect x="30" y="677" width="1" height="1"/><rect x="29" y="676" width="1" height="1"/></g></g>
<g transform="translate(188.7 31.2)" stroke="#ff7f10" stroke-width="1" fill="none"><circle r="4"/><path d="M-4 0H4M0 -4V4"/></g>
<g shape-rendering="crispEdges" fill="#e3e9ef"><rect x="183" y="921" width="1" height="17"/><rect x="293" y="921" width="1" height="17"/><rect x="183" y="938" width="442" height="1"/><rect x="403" y="921" width="1" height="5"/><rect x="579" y="921" width="1" height="5"/></g>
<text x="185" y="934" font-family="Liberation Sans, Noto Sans CJK SC, sans-serif" font-size="13.1" fill="#ff7f10">2026/01/22 <tspan x="254.6" font-size="12">星期四</tspan></text>
<text x="405" y="934" font-family="Liberation Sans, sans-serif" font-weight="bold" font-size="12.3" fill="#1f2433">2026/03</text>
<text x="581.3" y="934" font-family="Liberation Sans, sans-serif" font-weight="bold" font-size="12.3" fill="#1f2433">2026/04</text>
<text x="685.6" y="941.2" font-family="Liberation Sans, sans-serif" font-size="29.6" letter-spacing="2.95" fill="#c6b3a2">FX678</text>
<text x="684.6" y="940.2" font-family="Liberation Sans, sans-serif" font-size="29.6" letter-spacing="2.95" fill="#d6e6f8">FX678</text>
</svg>
<div id="toolbar">
<div class="b" style="left:0px;width:66px;border-left-color:#e9e9f2"><span class="t" style="left:25px">返回</span></div>
<div class="b" style="left:67px;width:70px"><span class="t" style="left:29.3px">首页</span></div>
<div class="b" style="left:138px;width:66px"></div>
<div class="b" style="left:205px;width:46px"></div>
<div class="b" style="left:252px;width:46px"></div>
<div class="b" style="left:299px;width:46px"><span class="l" style="font-size:16.5px;top:0;left:-0.5px">tick</span></div>
<div class="b" style="left:346px;width:46px"><span class="l">5</span>日</div>
<div class="b" style="left:393px;width:27px"><span class="l">5</span></div>
<div class="b" style="left:421px;width:27px"><span class="l">10</span></div>
<div class="b" style="left:449px;width:27px"><span class="l">30</span></div>
<div class="b" style="left:477px;width:27px"><span class="l">60</span></div>
<div class="b" style="left:505px;width:27px"><span class="l">4H</span></div>
<div class="b" style="left:533px;width:27px">日</div>
<div class="b" style="left:561px;width:27px">周</div>
<div class="b" style="left:589px;width:27px">月</div>
<div class="b" style="left:617px;width:27px">年</div>
<div class="b" style="left:645px;width:70px"><span class="t" style="left:29.8px">更多</span></div>
<div class="b" style="left:716px;width:27px"><span class="fx"><span class="f">f</span><span class="x">x</span></span></div>
<div class="b" style="left:744px;width:46px"></div>
<div class="b" style="left:791px;width:46px"></div>
<svg id="tbicons" width="814" height="20" viewBox="0 0 814 20" style="position:absolute;left:0;top:0"><g fill="#3b404b" stroke="none"><path transform="translate(10.3 -0.7) scale(0.007589)" d="M1792 1120q0 166-127 451-3 7-10.5 24t-13.5 30-13 22q-12 17-28 17-15 0-23.5-10t-8.5-25q0-9 2.5-26.500000t2.5-23.500000q5-68 5-123 0-101-17.500000-181t-48.500000-138.500000-80-101-105.500000-69.500000-133-42.500000-154-21.500000-175.500000-6h-224v256q0 26-19 45t-45 19-45-19l-512-512q-19-19-19-45t19-45l512-512q19-19 45-19t45 19 19 45v256h224q713 0 875 403 53 134 53 333z"/><path d="M87.7 -0.6 80.8 6.3 81.7 7.2 83.2 5.8V12.6H86.4V8.8H89V12.6H92.2V5.8L93.7 7.2 94.6 6.3Z"/><path d="M218.8 10.4q0-1.3 1.6-1.3t1.6 1.3V13.8H218.8Z M223.8 6.6q0-1.3 1.6-1.3t1.6 1.3V13.8H223.8Z M228.8 9.1q0-1.3 1.6-1.3t1.6 1.3V13.8H228.8Z M233.9 3.5q0-1.3 1.6-1.3t1.6 1.3V13.8H233.9Z"/><rect x="264.9" y="3.6" width="3" height="6" rx="1.2"/><rect x="270.8" y="1" width="3" height="8" rx="1.2"/><rect x="271.8" y="-1" width="1" height="14.6"/><rect x="276.4" y="5.4" width="3" height="4.8" rx="1.2"/><rect x="277.4" y="3" width="1" height="9.6"/><rect x="281.6" y="4.2" width="3" height="5.4" rx="1.2"/><rect x="282.6" y="1.2" width="1" height="11.4"/><rect x="659" y="0.4" width="14.2" height="2.5" rx="1.1"/><rect x="659" y="5.2" width="14.2" height="2.5" rx="1.1"/><rect x="659" y="10" width="14.2" height="2.5" rx="1.1"/><path d="M175.9 6.1H181.1L178.5 9.9Z"/></g><g fill="none" stroke="#3b404b"><path d="M218.9 8.4 225.6 2.2 229.4 5.8 236.4 -0.4" stroke-width="1.5"/><path d="M175.01 12.06A6.3 6.3 0 1 1 177.70 6.68" stroke-width="1.5"/><circle cx="766.8" cy="6" r="6.4" stroke-width="1.2"/><path d="M764 6H769.8" stroke-width="1"/><path d="M771.6 10.8 774.8 13.6" stroke-width="1.3"/><circle cx="814.6" cy="6" r="6.4" stroke-width="1.2"/><path d="M811.8 6H817" stroke-width="1"/></g></svg>
</div>
<div id="side"><div style="height:51px;padding-top:7.5px">分<br>时<br>图</div><div class="on" style="height:46px;padding-top:5.5px"><span class="k">K</span><br>线<br>图</div><div style="height:53px;padding-top:7.5px;border-bottom:1px solid #c9c9d2">闪<br>电<br>图</div><div style="height:64px;padding-top:8.2px;line-height:13.9px;border-bottom:1px solid #c9d3dd">合<br>约<br>资<br>料</div></div>
<div id="title">美元加元<b>【日线】</b></div>
<div id="period"><b>日线</b> <span>▲</span></div>
<div id="tabs">
<span class="cn on" style="left:1px;width:40px">指标</span>
<span class="cn" style="left:41px;width:40px">模板</span>
<span class="cn vip" style="left:81px;width:58px"><i>VIP</i>指标</span>
<span class="" style="left:139px;width:28px"><i>MA</i></span>
<span class="" style="left:167px;width:40px"><i>MACD</i></span>
<span class="" style="left:207px;width:40px"><i>BOLL</i></span>
<span class="" style="left:247px;width:34px"><i>VOL</i></span>
<span class="" style="left:281px;width:40px"><i>BIAS</i></span>
<span class="" style="left:321px;width:34px"><i>CCI</i></span>
<span class="" style="left:355px;width:34px"><i>KDJ</i></span>
<span class="" style="left:389px;width:40px"><i>LW&amp;</i></span>
<span class="" style="left:429px;width:34px"><i>RSI</i></span>
<span class="" style="left:463px;width:28px"><i>CR</i></span>
<span class="" style="left:491px;width:34px"><i>PSY</i></span>
<span class="cn" style="left:525px;width:40px">设置</span>
</div>
<div id="bline"></div><div id="scroll"></div>
</body></html>
